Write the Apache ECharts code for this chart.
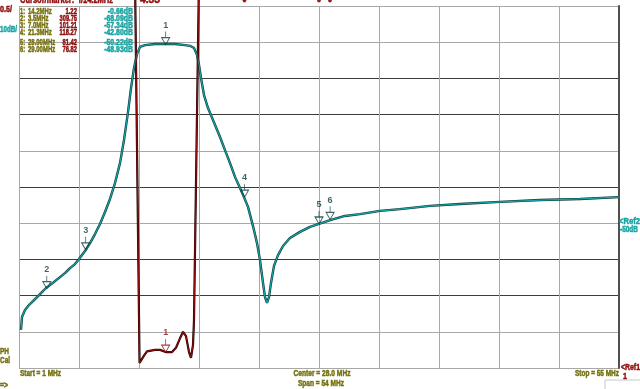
<!DOCTYPE html>
<html><head><meta charset="utf-8">
<script src="https://cdn.jsdelivr.net/npm/echarts@6/dist/echarts.min.js"></script>
<style>html,body{margin:0;padding:0;background:#fff}#c{width:640px;height:389px}</style>
</head><body><div id="c"></div>
<script>
// S21 magnitude trace (teal, 10 dB/div): frequency in MHz, level in dB
const s21Freq = [1.18,1.27,1.54,1.9,2.26,2.62,2.98,3.43,3.79,4.24,4.69,5.14,5.59,6.04,6.4,6.94,7.39,7.84,8.29,8.74,9.19,9.64,10.09,10.45,10.81,11.08,11.35,11.62,11.89,12.34,13.24,14.14,15.04,15.94,16.39,16.75,17.02,17.2,17.38,17.65,18.01,18.46,19.09,19.54,19.99,20.44,20.89,21.25,21.61,22.06,22.42,22.69,22.96,23.14,23.32,23.5,23.68,23.95,24.31,24.76,25.39,26.29,27.19,28.0,29.08,30.34,31.69,33.49,35.29,37.99,40.69,44.29,47.89,51.49,55.0];
const s21dB = [-79.5,-75.9,-74.0,-72.6,-71.5,-70.4,-69.3,-67.9,-67.1,-66.0,-64.9,-63.8,-62.4,-61.3,-59.9,-57.7,-55.5,-53.0,-50.2,-46.9,-43.3,-38.9,-33.4,-27.0,-19.3,-12.7,-7.1,-3.3,-1.3,-0.8,-0.5,-0.5,-0.5,-0.8,-1.0,-1.6,-3.5,-6.3,-9.9,-14.6,-18.2,-21.5,-26.2,-29.8,-33.4,-37.2,-40.3,-42.8,-45.5,-50.8,-55.5,-60.2,-66.5,-70.4,-72.0,-70.4,-66.5,-61.8,-58.8,-56.3,-54.1,-52.4,-51.0,-50.2,-49.1,-48.0,-47.5,-46.6,-46.1,-45.2,-44.7,-44.1,-43.6,-43.3,-42.8];
// SWR trace (dark red, 0.5/div, ref 1 at bottom)
const swrFreq = [11.0,11.44,11.85,11.98,12.25,12.52,13.24,13.69,14.2,14.41,14.77,15.13,15.49,15.76,16.03,16.3,16.48,16.66,16.75,17.2,17.6];
const swrVal = [12,6.4,1.07,1.06,1.17,1.23,1.25,1.25,1.22,1.22,1.22,1.28,1.41,1.5,1.44,1.22,1.14,1.32,1.66,6.4,12];
// markers
const markerNum = ['1','2','3','4','5','6'];
const markerFreq = [14.2,3.5,7.0,21.3,28.0,29.0];
const markerFreqText = ['14.2MHz','3.5MHz','7.0MHz','21.3MHz','28.00MHz','29.00MHz'];
const markerSwrText = ['1.22','309.75','101.21','118.27','81.42','76.82'];
const markerDb = [-0.66,-68.09,-57.34,-42.80,-50.22,-48.93];
const markerSwr = [1.22,309.75,101.21,118.27,81.42,76.82];
// axes
const fStart = 1, fStop = 55;
const dbMin = -90, dbMax = 10, dbDiv = 10;
const swrMin = 1, swrMax = 6;

const TEAL = '#17a3a3', TEAL_D = '#0d3d3d', RED = '#8e0d0d', RED_D = '#2a0000', OLIVE = '#74700e';
const FONT = '"Liberation Sans",Arial,sans-serif';
const G = '#a8a8a8', D = '#3c3c3c';

const mctx = document.createElement('canvas').getContext('2d');
function txt(x,y,t,fill,align,width,size){
  size = size||9;
  const font = 'bold '+size+'px '+FONT;
  mctx.font = font;
  const w = mctx.measureText(t).width;
  const sx = width ? width/w : 1;
  return {type:'text',x:x,y:y,scaleX:sx,silent:true,z:10,
    style:{text:t,fill:fill,font:font,stroke:fill,lineWidth:0.5,textAlign:align||'left',textVerticalAlign:'middle'}};
}

const chart = echarts.init(document.getElementById('c'), null, {renderer:'canvas'});
const s21 = s21Freq.map((f,i)=>[f,s21dB[i]]);
const swr = swrFreq.map((f,i)=>[f,swrVal[i]]);
const mk = markerFreq.map((f,i)=>({value:[f,markerDb[i]], name:markerNum[i]}));

const markerSymbol = 'path://M5,0 L5,6 M1,6 L9,6 L5,13 Z';

const graphics = [];
graphics.push(txt(20,0,'Cursor/marker:  f/14.2MHz',RED,'left',93,10));
graphics.push(txt(140,0,'4.33',RED,'left',20,10));
graphics.push(txt(0,10,'0.5/',RED,'left',12));
graphics.push(txt(0,30,'10dB/',TEAL,'left',17));
const rowY = [12,19,26,33,43,50];
for (let i=0;i<markerNum.length;i++){
  graphics.push(txt(20,rowY[i],markerNum[i]+':',OLIVE,'left',5));
  graphics.push(txt(28,rowY[i],markerFreqText[i],OLIVE,'left',markerFreqText[i].length*3.4));
  graphics.push(txt(77,rowY[i],markerSwrText[i],RED,'right',markerSwrText[i].length*2.9));
  const dbt = markerDb[i].toFixed(2)+'dB';
  graphics.push(txt(133,rowY[i],dbt,TEAL,'right',dbt.length*3.6));
}
graphics.push(txt(0,352,'PH',OLIVE,'left',9));
graphics.push(txt(0,361,'Cal',OLIVE,'left',10));
graphics.push(txt(20,374,'Start = '+fStart+' MHz',OLIVE,'left',41));
graphics.push(txt(322,374,'Center = '+((fStart+fStop)/2).toFixed(1)+' MHz',OLIVE,'center',57));
graphics.push(txt(321,384,'Span = '+(fStop-fStart)+' MHz',OLIVE,'center',46));
graphics.push(txt(619,374,'Stop = '+fStop+' MHz',OLIVE,'right',44));
graphics.push(txt(621,368,'<Ref1',RED,'left',19));
graphics.push(txt(623,377,'1',RED,'left',4));
graphics.push(txt(619,222,'<Ref2',TEAL,'left',21));
graphics.push(txt(620,230,'-50dB',TEAL,'left',18));
graphics.push(txt(0,386,'=>',OLIVE,'left',8));
graphics.push({type:'rect',shape:{x:605,y:380,width:40,height:12},style:{fill:'#fff',stroke:'#c8c8c8',lineWidth:1},silent:true});

chart.setOption({
  animation:false,
  backgroundColor:'#ffffff',
  grid:{left:19,right:21,top:6,bottom:21,containLabel:false},
  xAxis:[
    {type:'value',min:fStart,max:fStop,show:false},
    {type:'value',min:0,max:10,interval:1,position:'bottom',axisLine:{show:false},axisTick:{show:false},axisLabel:{show:false},
     splitLine:{show:true,lineStyle:{color:G,width:1}}}
  ],
  yAxis:[
    {type:'value',min:dbMin,max:dbMax,interval:dbDiv,axisLine:{show:false},axisTick:{show:false},axisLabel:{show:false},
     splitLine:{show:true,lineStyle:{width:1,color:[G,G,D,D,G,D,G,D,D,G,G]}}},
    {type:'value',min:swrMin,max:swrMax,position:'right',axisLine:{show:true,lineStyle:{color:'#505050',width:2}},axisTick:{show:false},axisLabel:{show:false},splitLine:{show:false}}
  ],
  series:[
    {type:'line',data:s21,xAxisIndex:0,yAxisIndex:0,symbol:'none',lineStyle:{color:TEAL_D,width:2.4},z:2,silent:true},
    {type:'line',data:s21,xAxisIndex:0,yAxisIndex:0,symbol:'none',lineStyle:{color:TEAL,width:1.2},z:3,silent:true},
    {type:'line',data:swr,xAxisIndex:0,yAxisIndex:1,symbol:'none',clip:false,lineStyle:{color:RED_D,width:2.2},z:2,silent:true},
    {type:'line',data:swr,xAxisIndex:0,yAxisIndex:1,symbol:'none',clip:false,lineStyle:{color:RED,width:1.1},z:3,silent:true},
    {type:'scatter',data:mk,xAxisIndex:0,yAxisIndex:0,symbol:markerSymbol,symbolSize:[8,13],symbolOffset:[0,-6.5],z:5,
     itemStyle:{color:'rgba(0,0,0,0)',borderColor:TEAL_D,borderWidth:1},
     label:{show:true,position:'top',distance:1,formatter:p=>p.name,color:TEAL_D,fontSize:9,fontWeight:'bold',fontFamily:FONT}},
    {type:'scatter',data:[{value:[markerFreq[0],markerSwr[0]],name:markerNum[0]}],xAxisIndex:0,yAxisIndex:1,symbol:markerSymbol,symbolSize:[8,13],symbolOffset:[0,-6.5],z:5,
     itemStyle:{color:'rgba(0,0,0,0)',borderColor:RED,borderWidth:1},
     label:{show:true,position:'top',distance:1,formatter:p=>p.name,color:RED,fontSize:9,fontWeight:'bold',fontFamily:FONT}}
  ],
  graphic:graphics
});
// off-scale SWR marker indicators (markers 4,5,6 above the top)
const extra = graphics.slice();
[3,4,5].forEach(i=>{
  if (markerSwr[i] > swrMax) {
    const x = chart.convertToPixel({xAxisIndex:0}, markerFreq[i]);
    extra.push(txt(x,0,'v',RED,'center',6));
  }
});
chart.setOption({graphic:extra});
</script></body></html>
